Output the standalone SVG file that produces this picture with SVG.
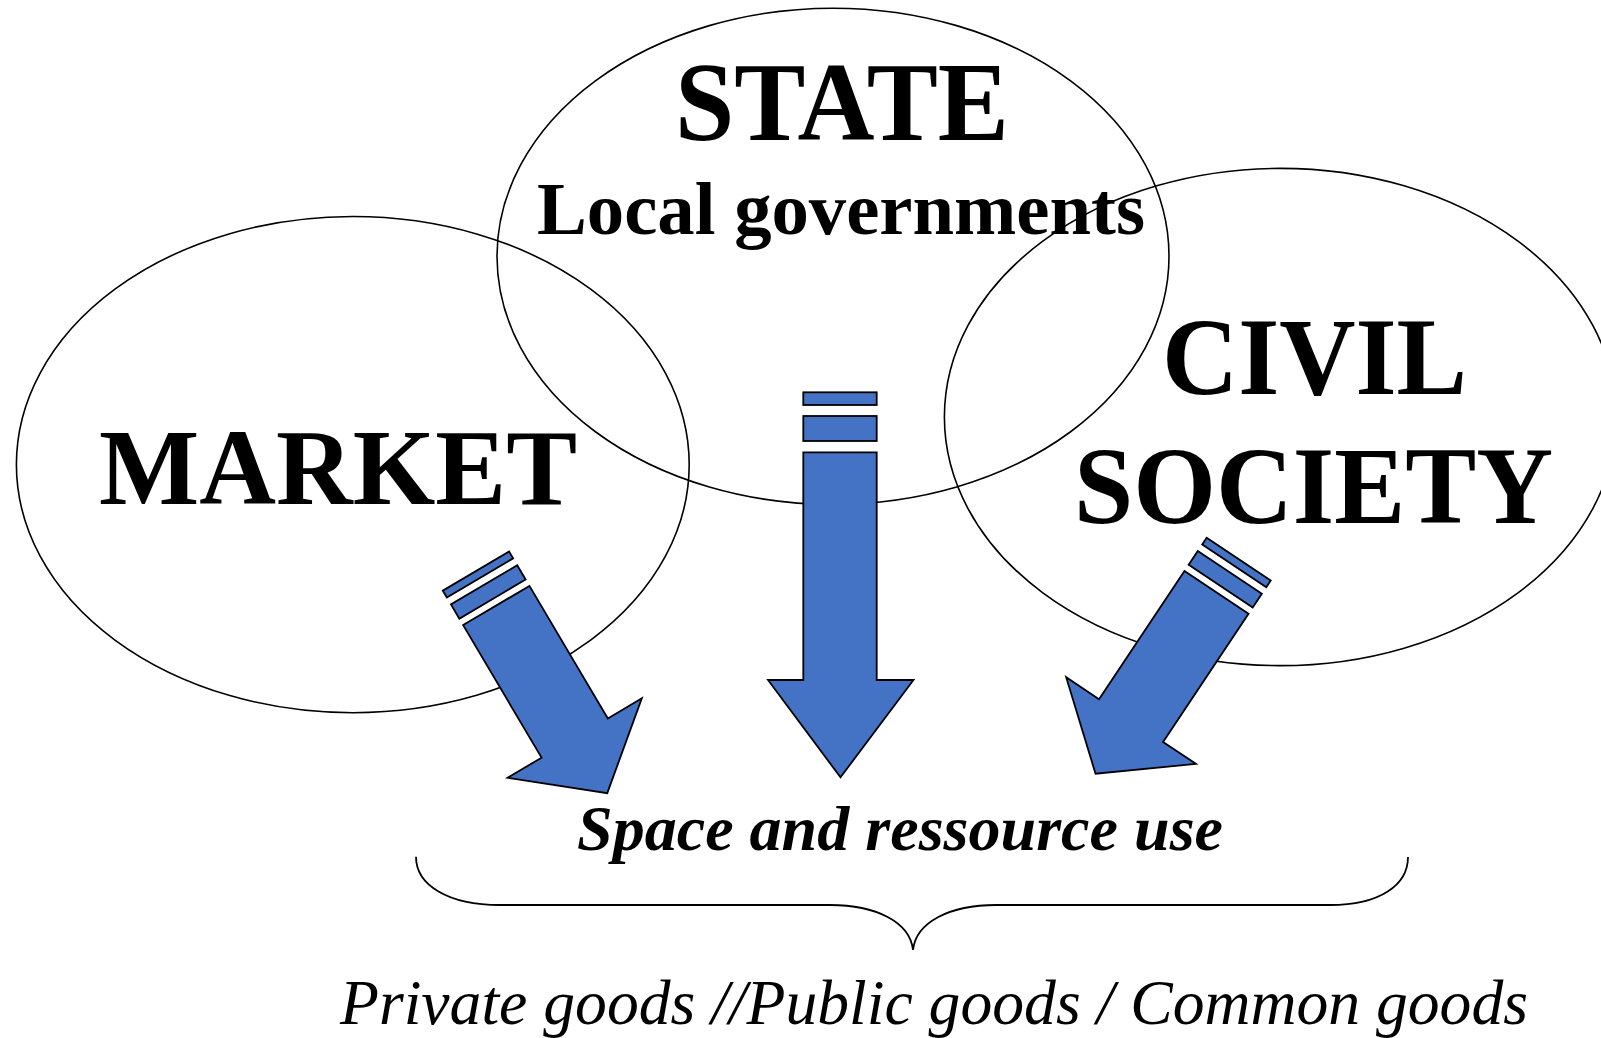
<svg xmlns="http://www.w3.org/2000/svg" width="1601" height="1038" viewBox="0 0 1601 1038">
<style>
.bg{fill:#ffffff}
.ell{fill:none;stroke:#000;stroke-width:1.6}
.arr{fill:#4472C4;stroke:#000;stroke-width:1.8;stroke-linejoin:miter}
.t{font-family:"Liberation Serif","Times New Roman",serif;fill:#000}
.b{font-weight:bold}
.i{font-style:italic}
.brace{fill:none;stroke:#000;stroke-width:1.8}
</style>
<defs>
<g id="sideArrow">
<rect class="arr" x="-38.5" y="-40" width="77" height="8"/>
<rect class="arr" x="-38.5" y="-24" width="77" height="16.5"/>
<polygon class="arr" points="-38.5,0 38.5,0 38.5,154 78,154 0,218 -78,154 -38.5,154"/>
</g>
</defs>
<rect class="bg" x="0" y="0" width="1601" height="1038"/>

<g id="node-market">
<ellipse class="ell" cx="352.8" cy="464.6" rx="336.4" ry="248.1"/>
<text class="t b" x="99" y="504" font-size="108" textLength="478" lengthAdjust="spacingAndGlyphs">MARKET</text>
</g>

<g id="node-state">
<ellipse class="ell" cx="833" cy="256.3" rx="336" ry="248.1"/>
<text class="t b" x="675" y="139.5" font-size="112" textLength="334" lengthAdjust="spacingAndGlyphs">STATE</text>
<text class="t b" x="537" y="234" font-size="74" textLength="608" lengthAdjust="spacingAndGlyphs">Local governments</text>
</g>

<g id="node-civil">
<ellipse class="ell" cx="1280.4" cy="417" rx="336" ry="248.6"/>
<text class="t b" x="1162" y="394" font-size="110" textLength="305" lengthAdjust="spacingAndGlyphs">CIVIL</text>
<text class="t b" x="1074" y="523" font-size="110" textLength="479" lengthAdjust="spacingAndGlyphs">SOCIETY</text>
</g>

<g id="connectors">
<use href="#sideArrow" transform="translate(496.3,605.5) rotate(-30.6)"/>
<g id="arrow-state">
<rect class="arr" x="803.3" y="392.3" width="73.4" height="12.7"/>
<rect class="arr" x="803.3" y="416" width="73.4" height="25"/>
<polygon class="arr" points="803.3,452.3 876.7,452.3 876.7,680 913.5,680 840.5,777.3 768,680 803.3,680"/>
</g>
<use href="#sideArrow" transform="translate(1216.5,592.4) rotate(33.7)"/>
</g>

<g id="node-use">
<text class="t b i" x="577" y="850" font-size="63" textLength="646" lengthAdjust="spacingAndGlyphs">Space and ressource use</text>
<path class="brace" d="M416,856.7 C416,885 448,905 500,905 L830,905 C876,905 910,922 913,950 C916,922 950,905 996,905 L1330,905 C1380,905 1408,885 1408,857"/>
</g>

<g id="node-goods">
<text class="t i" x="340" y="1024" font-size="63" textLength="1188" lengthAdjust="spacingAndGlyphs">Private goods //Public goods / Common goods</text>
</g>
</svg>
